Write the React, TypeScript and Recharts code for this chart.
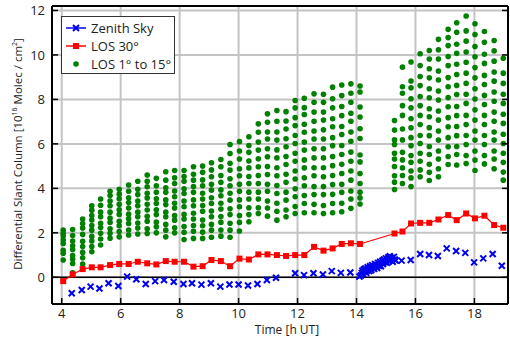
import { ScatterChart, Scatter, XAxis, YAxis, CartesianGrid, ReferenceLine } from "recharts"

// Zenith sky (blue crosses)
const zenithTimes = [
  4.34, 4.68, 4.98, 5.28, 5.59, 5.92, 6.22, 6.53, 6.85, 7.17, 7.47, 7.8, 8.13, 8.42, 8.74, 9.06, 9.38, 9.69, 10.0, 10.32,
  10.64, 10.96, 11.27, 11.92, 12.22, 12.54, 12.86, 13.16, 13.47, 13.79, 14.1,
  14.15, 14.18, 14.2, 14.22, 14.25, 14.27, 14.3, 14.33, 14.35, 14.38, 14.4, 14.43, 14.46, 14.48, 14.5, 14.53, 14.56,
  14.58, 14.6, 14.63, 14.66, 14.68, 14.7, 14.73, 14.76, 14.78, 14.8, 14.83, 14.86, 14.88, 14.9, 14.93, 14.96, 14.98,
  15.0, 15.03, 15.06, 15.08, 15.1, 15.13, 15.16, 15.2, 15.23, 15.27, 15.3, 15.33,
  15.53, 15.84, 16.16, 16.46, 16.76, 17.06, 17.38, 17.69, 17.99, 18.3, 18.62, 18.93,
]
const zenithValues = [
  -0.72, -0.57, -0.42, -0.5, -0.27, -0.39, 0.03, -0.09, -0.3, -0.17, -0.12, -0.2, -0.3, -0.27, -0.33, -0.27, -0.42, -0.32, -0.32, -0.37,
  -0.3, -0.12, -0.02, 0.18, 0.1, 0.18, 0.13, 0.28, 0.2, 0.22, 0.03,
  0.08, 0.2, 0.3, 0.15, 0.35, 0.25, 0.4, 0.2, 0.3, 0.45, 0.35, 0.28, 0.5, 0.4, 0.32, 0.55, 0.42,
  0.5, 0.38, 0.6, 0.48, 0.55, 0.42, 0.65, 0.52, 0.6, 0.7, 0.5, 0.65, 0.75, 0.6, 0.8, 0.68, 0.72,
  0.85, 0.65, 0.8, 0.9, 0.72, 0.95, 0.8, 0.88, 0.7, 0.92, 0.8, 0.75,
  0.75, 0.78, 1.05, 1.0, 0.96, 1.3, 1.18, 1.1, 0.67, 0.85, 1.05, 0.52,
]

// LOS 30 deg (red squares)
const los30Times = [
  4.05, 4.37, 4.71, 5.02, 5.32, 5.64, 5.95, 6.27, 6.58, 6.9, 7.21, 7.53, 7.83, 8.15, 8.47, 8.78, 9.08, 9.4, 9.71, 10.03,
  10.35, 10.67, 10.98, 11.3, 11.61, 11.92, 12.23, 12.56, 12.88, 13.19, 13.5, 13.81, 14.12,
  15.29, 15.56, 15.85, 16.16, 16.47, 16.78, 17.11, 17.4, 17.72, 18.02, 18.34, 18.67, 18.98,
]
const los30Values = [
  -0.17, 0.13, 0.37, 0.45, 0.45, 0.55, 0.6, 0.6, 0.7, 0.63, 0.58, 0.73, 0.7, 0.7, 0.48, 0.5, 0.78, 0.73, 0.5, 0.84,
  0.8, 1.03, 1.03, 1.0, 0.96, 1.0, 1.0, 1.37, 1.2, 1.3, 1.5, 1.53, 1.5,
  1.97, 2.06, 2.42, 2.45, 2.45, 2.6, 2.8, 2.57, 2.87, 2.65, 2.77, 2.35, 2.23,
]

// LOS 1 to 15 deg scans (green dots), one list of values per scan time
const scanTimes = [
  4.05, 4.37, 4.71, 5.02, 5.32, 5.64, 5.95, 6.27, 6.58, 6.9, 7.21, 7.53, 7.83, 8.15, 8.47, 8.78, 9.08, 9.4, 9.71, 10.03,
  10.35, 10.67, 10.98, 11.3, 11.61, 11.92, 12.23, 12.56, 12.88, 13.19, 13.5, 13.81, 14.12,
  15.29, 15.56, 15.85, 16.16, 16.47, 16.78, 17.11, 17.4, 17.72, 18.02, 18.34, 18.67, 18.98,
]
const scanValues = [
  [0.78, 1.08, 1.22, 1.52, 1.68, 1.86, 1.97, 2.12],
  [0.2, 0.62, 0.82, 0.98, 1.25, 1.42, 1.63, 1.88, 2.15],
  [0.6, 0.88, 1.12, 1.38, 1.62, 1.93, 2.22, 2.42, 2.62],
  [1.15, 1.38, 1.63, 1.84, 2.12, 2.33, 2.58, 2.78, 3.02, 3.22],
  [1.45, 1.72, 1.98, 2.24, 2.43, 2.72, 2.93, 3.24, 3.52],
  [1.76, 1.98, 2.18, 2.47, 2.66, 2.93, 3.22, 3.43, 3.68, 3.87],
  [1.82, 2.06, 2.32, 2.52, 2.83, 3.04, 3.28, 3.53, 3.74, 3.96],
  [1.9, 2.13, 2.42, 2.63, 2.84, 3.12, 3.36, 3.58, 3.87, 4.15],
  [1.95, 2.22, 2.44, 2.72, 2.93, 3.22, 3.43, 3.72, 3.96, 4.32],
  [1.97, 2.18, 2.52, 2.74, 3.03, 3.28, 3.57, 3.78, 4.07, 4.32, 4.6],
  [2.0, 2.27, 2.48, 2.82, 3.04, 3.32, 3.53, 3.82, 4.12, 4.45],
  [1.82, 2.12, 2.38, 2.72, 2.93, 3.27, 3.48, 3.82, 4.03, 4.37, 4.75],
  [2.0, 2.23, 2.57, 2.78, 3.12, 3.33, 3.62, 3.88, 4.22, 4.48, 4.8],
  [1.7, 2.02, 2.28, 2.62, 2.83, 3.17, 3.43, 3.77, 3.98, 4.32, 4.53, 4.8],
  [1.75, 2.07, 2.33, 2.62, 2.88, 3.22, 3.48, 3.82, 4.08, 4.37, 4.63, 4.97],
  [1.75, 2.03, 2.32, 2.58, 2.97, 3.23, 3.52, 3.78, 4.12, 4.38, 4.72, 5.0],
  [1.8, 2.12, 2.38, 2.72, 2.98, 3.32, 3.58, 3.92, 4.18, 4.52, 4.83, 5.15],
  [1.85, 2.13, 2.47, 2.73, 3.07, 3.33, 3.67, 3.93, 4.27, 4.58, 4.97, 5.3],
  [1.8, 2.12, 2.43, 2.82, 3.08, 3.47, 3.78, 4.12, 4.43, 4.82, 5.13, 5.57, 5.97],
  [2.08, 2.47, 2.78, 3.17, 3.48, 3.87, 4.18, 4.57, 4.88, 5.32, 5.68, 6.1],
  [2.5, 2.82, 3.13, 3.52, 3.83, 4.22, 4.53, 4.92, 5.23, 5.62, 5.93, 6.32],
  [2.87, 3.13, 3.52, 3.83, 4.22, 4.58, 4.97, 5.33, 5.72, 6.08, 6.52, 6.9],
  [2.75, 3.12, 3.43, 3.87, 4.18, 4.62, 4.98, 5.42, 5.78, 6.22, 6.53, 6.97, 7.35],
  [2.57, 2.97, 3.33, 3.77, 4.13, 4.57, 4.93, 5.37, 5.73, 6.17, 6.53, 7.02, 7.5],
  [2.72, 3.03, 3.47, 3.83, 4.27, 4.63, 5.07, 5.43, 5.87, 6.23, 6.67, 7.03, 7.45],
  [2.87, 3.18, 3.62, 3.98, 4.42, 4.78, 5.22, 5.58, 6.02, 6.38, 6.82, 7.18, 7.62, 7.95],
  [2.9, 3.32, 3.68, 4.12, 4.48, 4.92, 5.28, 5.72, 6.08, 6.52, 6.88, 7.32, 7.63, 8.05],
  [2.9, 3.28, 3.72, 4.08, 4.57, 4.93, 5.37, 5.78, 6.22, 6.58, 7.02, 7.43, 7.87, 8.25],
  [2.87, 3.23, 3.72, 4.08, 4.52, 4.93, 5.37, 5.78, 6.22, 6.63, 7.07, 7.43, 7.87, 8.23],
  [2.9, 3.32, 3.73, 4.17, 4.58, 5.02, 5.43, 5.92, 6.28, 6.77, 7.13, 7.62, 8.03, 8.55],
  [2.95, 3.33, 3.82, 4.18, 4.67, 5.08, 5.52, 5.93, 6.42, 6.78, 7.27, 7.68, 8.17, 8.65],
  [3.1, 3.52, 3.88, 4.37, 4.78, 5.22, 5.63, 6.12, 6.53, 7.02, 7.38, 7.87, 8.28, 8.7],
  [3.3, 3.57, 3.83, 4.22, 4.67, 5.19, 5.5, 6.24, 6.68, 7.21, 7.66, 8.33, 8.6],
  [3.95, 4.28, 4.57, 4.98, 5.32, 5.58, 5.97, 6.18, 6.62, 7.05],
  [4.22, 4.58, 4.92, 5.28, 5.62, 6.18, 6.67, 7.28, 7.72, 8.28, 8.57, 9.45],
  [4.08, 4.47, 4.78, 5.17, 5.48, 5.92, 6.28, 6.72, 7.13, 7.62, 8.03, 8.52, 8.83, 9.68],
  [4.52, 4.83, 5.22, 5.58, 6.02, 6.38, 6.87, 7.28, 7.72, 8.13, 8.62, 9.03, 9.52, 10.05],
  [4.35, 4.72, 5.08, 5.52, 5.88, 6.37, 6.73, 7.22, 7.58, 8.07, 8.48, 8.97, 9.38, 9.82, 10.2],
  [4.52, 4.88, 5.32, 5.68, 6.17, 6.58, 7.07, 7.48, 7.97, 8.38, 8.87, 9.28, 9.82, 10.23, 10.7],
  [5.07, 5.43, 5.87, 6.28, 6.77, 7.18, 7.67, 8.08, 8.57, 8.98, 9.52, 9.93, 10.42, 10.78, 11.15],
  [5.05, 5.52, 5.88, 6.37, 6.78, 7.27, 7.68, 8.22, 8.63, 9.12, 9.58, 10.07, 10.48, 11.02, 11.45],
  [5.12, 5.48, 5.97, 6.38, 6.87, 7.28, 7.82, 8.23, 8.72, 9.18, 9.67, 10.13, 10.62, 11.08, 11.75],
  [4.8, 5.27, 5.68, 6.17, 6.58, 7.07, 7.53, 8.02, 8.48, 8.97, 9.43, 9.92, 10.38, 10.92, 11.4],
  [5.1, 5.48, 5.97, 6.38, 6.87, 7.28, 7.77, 8.18, 8.67, 9.08, 9.62, 10.03, 10.57, 11.05],
  [4.88, 5.32, 5.68, 6.17, 6.53, 7.02, 7.43, 7.92, 8.33, 8.82, 9.23, 9.72, 10.18, 10.65],
  [4.37, 4.73, 5.17, 5.58, 6.02, 6.43, 6.92, 7.33, 7.82, 8.23, 8.72, 9.18, 9.85],
]

const xTicks = [4, 6, 8, 10, 12, 14, 16, 18]
const yTicks = [0, 2, 4, 6, 8, 10, 12]

const zenithData = zenithTimes.map((t, i) => ({ t, v: zenithValues[i] }))
const los30Data = los30Times.map((t, i) => ({ t, v: los30Values[i] }))
const scanData = scanTimes.flatMap((t, i) => scanValues[i].map((v) => ({ t, v })))

const FONT = "'Open Sans', sans-serif"
const BLUE = "#0000f0"
const RED = "#ff0000"
const GREEN = "#008000"

const Cross = (p: any) => (
  <path
    d={`M${p.cx - 3},${p.cy - 3}L${p.cx + 3},${p.cy + 3}M${p.cx - 3},${p.cy + 3}L${p.cx + 3},${p.cy - 3}`}
    stroke={BLUE}
    strokeWidth={2}
    fill="none"
  />
)
const Square = (p: any) => <rect x={p.cx - 3} y={p.cy - 3} width={6} height={6} fill={RED} />
const Dot = (p: any) => <circle cx={p.cx} cy={p.cy} r={2.8} fill={GREEN} />

// tickSize=0 and tickMargin=0, so x/y below sit on the axis line itself
const bottomTick = (p: any) => (
  <g key={`b${p.index}`}>
    <line x1={p.x} x2={p.x} y1={p.y} y2={p.y - 6} stroke="#000" strokeWidth={1.5} />
    <text x={p.x} y={p.y + 14} textAnchor="middle" fontSize={13} fontFamily={FONT} fill="#222">
      {p.payload.value}
    </text>
  </g>
)
const topTick = (p: any) => (
  <line key={`t${p.index}`} x1={p.x} x2={p.x} y1={p.y} y2={p.y + 6} stroke="#000" strokeWidth={1.5} />
)
const leftTick = (p: any) => (
  <g key={`l${p.index}`}>
    <line x1={p.x} x2={p.x + 6} y1={p.y} y2={p.y} stroke="#000" strokeWidth={1.5} />
    <text x={p.x - 7} y={p.y + 5} textAnchor="end" fontSize={13} fontFamily={FONT} fill="#222">
      {p.payload.value}
    </text>
  </g>
)
const rightTick = (p: any) => (
  <line key={`r${p.index}`} x1={p.x} x2={p.x - 6} y1={p.y} y2={p.y} stroke="#000" strokeWidth={1.5} />
)

function LegendBox() {
  const row = { display: "flex", alignItems: "center", height: 18 }
  const text = { fontFamily: FONT, fontSize: 13, color: "#222", marginLeft: 5 }
  return (
    <div
      style={{
        position: "absolute",
        left: 61,
        top: 16,
        width: 114,
        height: 58,
        border: "1px solid #333",
        background: "#fff",
        padding: "2px 0 0 4px",
        boxSizing: "border-box",
      }}
    >
      <div style={row}>
        <svg width={20} height={10}>
          <line x1={0} x2={20} y1={5} y2={5} stroke={BLUE} strokeWidth={1.5} />
          <path d="M7,2L13,8M7,8L13,2" stroke={BLUE} strokeWidth={2} />
        </svg>
        <span style={text}>Zenith Sky</span>
      </div>
      <div style={row}>
        <svg width={20} height={10}>
          <line x1={0} x2={20} y1={5} y2={5} stroke={RED} strokeWidth={1.5} />
          <rect x={7} y={2} width={6} height={6} fill={RED} />
        </svg>
        <span style={text}>LOS 30°</span>
      </div>
      <div style={row}>
        <svg width={20} height={10}>
          <circle cx={10} cy={5} r={2.8} fill={GREEN} />
        </svg>
        <span style={text}>LOS 1° to 15°</span>
      </div>
    </div>
  )
}

export default function App() {
  return (
    <div style={{ position: "fixed", left: 0, top: 0, width: 510, height: 340, background: "#fff" }}>
      <ScatterChart width={510} height={340} margin={{ top: 5, right: 1, bottom: 6, left: 8 }}>
        <CartesianGrid stroke="#c4c4c4" strokeWidth={2} />
        <XAxis
          type="number"
          dataKey="t"
          domain={[3.67, 19.14]}
          ticks={xTicks}
          allowDataOverflow
          axisLine={{ stroke: "#000", strokeWidth: 2 }}
          tickLine={false}
          tickSize={0}
          tickMargin={0}
          tick={bottomTick}
          height={30}
        />
        <XAxis
          xAxisId="top"
          orientation="top"
          type="number"
          domain={[3.67, 19.14]}
          ticks={xTicks}
          allowDataOverflow
          axisLine={{ stroke: "#000", strokeWidth: 2 }}
          tickLine={false}
          tickSize={0}
          tickMargin={0}
          tick={topTick}
          height={1}
        />
        <YAxis
          type="number"
          dataKey="v"
          domain={[-1.2, 12.2]}
          ticks={yTicks}
          allowDataOverflow
          axisLine={{ stroke: "#000", strokeWidth: 2 }}
          tickLine={false}
          tickSize={0}
          tickMargin={0}
          tick={leftTick}
          width={44}
        />
        <YAxis
          yAxisId="right"
          orientation="right"
          type="number"
          domain={[-1.2, 12.2]}
          ticks={yTicks}
          allowDataOverflow
          axisLine={{ stroke: "#000", strokeWidth: 2 }}
          tickLine={false}
          tickSize={0}
          tickMargin={0}
          tick={rightTick}
          width={1}
        />
        <ReferenceLine y={0} stroke="#000" strokeWidth={1.5} />
        <Scatter data={scanData} shape={Dot} isAnimationActive={false} />
        <Scatter data={los30Data} shape={Square} line={{ stroke: RED, strokeWidth: 1.2 }} isAnimationActive={false} />
        <Scatter data={zenithData} shape={Cross} isAnimationActive={false} />
      </ScatterChart>
      <div
        style={{
          position: "absolute",
          left: 287,
          top: 323,
          transform: "translateX(-50%)",
          fontFamily: FONT,
          fontSize: 12,
          lineHeight: "14px",
          color: "#222",
          whiteSpace: "nowrap",
        }}
      >
        Time [h UT]
      </div>
      <div
        style={{
          position: "absolute",
          left: 17,
          top: 154,
          transform: "translate(-50%, -50%) rotate(-90deg)",
          fontFamily: FONT,
          fontSize: 11.5,
          color: "#222",
          whiteSpace: "nowrap",
        }}
      >
        Differential Slant Column [10<sup style={{ fontSize: 7 }}>16</sup> Molec / cm<sup style={{ fontSize: 7 }}>2</sup>]
      </div>
      <LegendBox />
    </div>
  )
}
